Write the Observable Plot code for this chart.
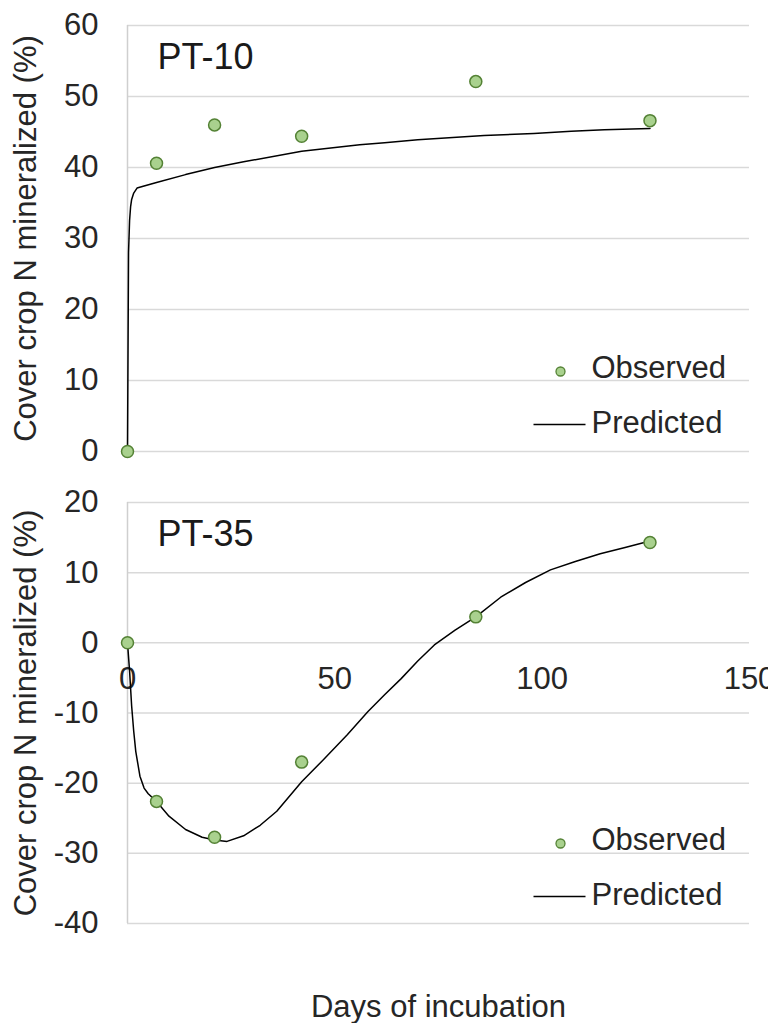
<!DOCTYPE html>
<html>
<head>
<meta charset="utf-8">
<script src="https://cdn.jsdelivr.net/npm/d3@7"></script>
<script src="https://cdn.jsdelivr.net/npm/@observablehq/plot@0.6"></script>
<style>
  html, body { margin: 0; padding: 0; background: #fff; overflow: hidden; }
  #chart svg { display: block; }
</style>
</head>
<body>
<div id="chart"></div>
<script>
// ---- data ----
const panelNames = ["PT-10", "PT-35"];
const obsDays = [0, 7, 21, 42, 84, 126];
const pt10Observed = [0, 40.6, 46.0, 44.4, 52.1, 46.6];
const pt35Observed = [0, -22.6, -27.7, -17.0, 3.7, 14.3];

const pt10PredDays = [0, 0.25, 0.5, 0.75, 1, 1.5, 2.3, 4, 7, 14, 21, 28, 42, 56, 62, 70, 86, 98, 107, 115, 126];
const pt10Predicted = [0, 28, 32.5, 34.5, 35.5, 36.4, 37.1, 37.4, 37.9, 39.0, 40.0, 40.8, 42.3, 43.2, 43.5, 43.9, 44.5, 44.8, 45.1, 45.3, 45.5];

const pt35PredDays = [0, 0.5, 1, 1.5, 2, 3, 4, 5, 7, 10, 14, 18, 21, 24, 28, 32, 36, 42, 47, 53, 58, 62, 66, 70, 74, 79, 84, 90, 96, 102, 108, 114, 120, 126];
const pt35Predicted = [0, -4, -9, -12.6, -15.5, -19, -20.7, -21.5, -22.6, -24.7, -26.6, -27.7, -28.1, -28.3, -27.5, -26, -24, -19.8, -16.8, -13.1, -9.8, -7.4, -5.1, -2.6, -0.3, 1.8, 3.7, 6.5, 8.6, 10.4, 11.6, 12.7, 13.6, 14.5];

const xTicks = [0, 50, 100, 150];
const pt10Ticks = [0, 10, 20, 30, 40, 50, 60];
const pt35Ticks = [-40, -30, -20, -10, 0, 10, 20];

const yTitle = "Cover crop N mineralized (%)";
const xTitle = "Days of incubation";
const legendLabels = ["Observed", "Predicted"];

// ---- styles ----
const FONT = "'Liberation Sans', Arial, Helvetica, sans-serif";
const TEXT = "#262626";
const GRID = "#d9d9d9";
const DOT_FILL = "#a9d18e";
const DOT_STROKE = "#548235";

const lineSymbol = {
  draw(ctx) { ctx.moveTo(-26, 0); ctx.lineTo(26, 0); }
};

function legendMarks() {
  return [
    Plot.dot([0], {frameAnchor: "bottom-right", dx: -189, dy: -80, r: 4.5, fill: DOT_FILL, stroke: DOT_STROKE, strokeWidth: 1.3}),
    Plot.text([legendLabels[0]], {text: d => d, frameAnchor: "bottom-right", dx: -158, dy: -83, textAnchor: "start", lineAnchor: "middle", fontSize: 31, fill: TEXT}),
    Plot.dot([0], {frameAnchor: "bottom-right", dx: -190, dy: -27, symbol: lineSymbol, fill: "none", stroke: "#000", strokeWidth: 1.5}),
    Plot.text([legendLabels[1]], {text: d => d, frameAnchor: "bottom-right", dx: -158, dy: -28, textAnchor: "start", lineAnchor: "middle", fontSize: 31, fill: TEXT})
  ];
}

function panel({name, observed, predDays, predicted, ticks, domain, height, marginTop, marginBottom, withX}) {
  const obs = obsDays.map((d, i) => ({d, v: observed[i]}));
  const pred = predDays.map((d, i) => ({d, v: predicted[i]}));
  const marks = [
    Plot.gridY(ticks, {stroke: GRID, strokeOpacity: 1, strokeWidth: 1.5}),
    Plot.ruleX([0], {stroke: "#cfcfcf", strokeWidth: 1.5}),
    Plot.axisY(ticks, {tickSize: 0, tickPadding: 29, fontSize: 31, fill: TEXT, label: null, tickFormat: d => String(d)}),
    Plot.text([yTitle], {text: d => d, frameAnchor: "left", dx: -101, rotate: -90, textAnchor: "middle", lineAnchor: "middle", fontSize: 31, fill: TEXT}),
    Plot.text([name], {text: d => d, frameAnchor: "top-left", dx: 30, dy: 32, textAnchor: "start", lineAnchor: "middle", fontSize: 36, fill: "#1a1a1a"})
  ];
  if (withX) {
    marks.push(
      Plot.text(xTicks.map(t => ({d: t, v: 0})), {x: "d", y: "v", text: d => String(d.d), dy: 36, lineAnchor: "middle", fontSize: 31, fill: TEXT}),
      Plot.text([xTitle], {text: d => d, frameAnchor: "bottom", dy: 84, textAnchor: "middle", lineAnchor: "middle", fontSize: 31, fill: TEXT})
    );
  }
  marks.push(
    Plot.line(pred, {x: "d", y: "v", stroke: "#000", strokeWidth: 1.5}),
    Plot.dot(obs, {x: "d", y: "v", r: 6, fill: DOT_FILL, stroke: DOT_STROKE, strokeWidth: 1.5}),
    ...legendMarks()
  );
  return Plot.plot({
    width: 768,
    height,
    marginLeft: 127,
    marginRight: 19,
    marginTop,
    marginBottom,
    style: {fontFamily: FONT, fontSize: "31px", background: "#fff", color: TEXT},
    x: {domain: [0, 150], axis: null},
    y: {domain, axis: null},
    marks
  });
}

const chart = document.getElementById("chart");
chart.append(panel({
  name: panelNames[0], observed: pt10Observed, predDays: pt10PredDays, predicted: pt10Predicted,
  ticks: pt10Ticks, domain: [0, 60], height: 470, marginTop: 25, marginBottom: 19, withX: false
}));
chart.append(panel({
  name: panelNames[1], observed: pt35Observed, predDays: pt35PredDays, predicted: pt35Predicted,
  ticks: pt35Ticks, domain: [-40, 20], height: 553, marginTop: 32, marginBottom: 100, withX: true
}));
</script>
</body>
</html>
